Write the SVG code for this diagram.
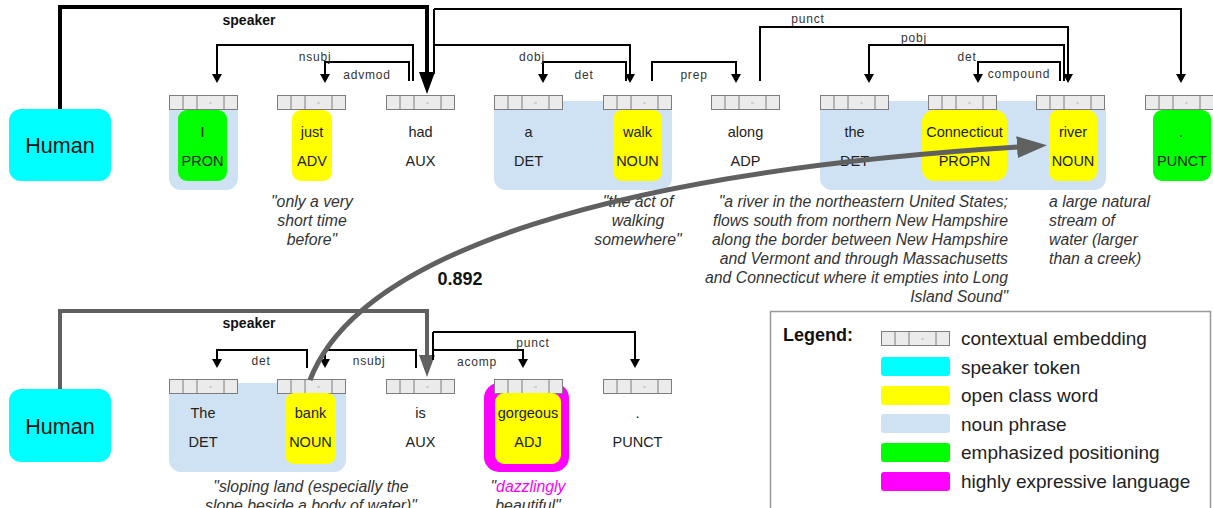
<svg xmlns="http://www.w3.org/2000/svg" width="1213" height="508" viewBox="0 0 1213 508">
<defs>
<style>
text{font-family:"Liberation Sans",Arial,sans-serif}
.w{font-size:14.5px;fill:#222;text-anchor:middle}
.hum{font-size:21.5px;fill:#111;text-anchor:middle}
.lb{font-size:12px;letter-spacing:0.8px;fill:#333;text-anchor:middle}
.sl{font-size:14px;font-weight:bold;fill:#111;text-anchor:middle}
.gl{font-size:15.8px;font-style:italic;fill:#333}
.c{text-anchor:middle}
.r{text-anchor:end}
.dep{fill:none;stroke:#000;stroke-width:2;marker-end:url(#ah)}
.src{fill:none;stroke:#000;stroke-width:2}
.lg{font-size:19px;fill:#222}
.np{fill:#cfe2f3}
.yel{fill:#ffff00}
.grn{fill:#00ff00}
.cyn{fill:#00ffff}
.mag{fill:#ff00ff}
</style>
<marker id="ah" markerUnits="userSpaceOnUse" markerWidth="10" markerHeight="10" refX="6" refY="5" orient="auto"><path d="M0,0 L9,5 L0,10 z" fill="#000"/></marker>
<marker id="bigk" markerUnits="userSpaceOnUse" markerWidth="23" markerHeight="16" refX="2" refY="8" orient="auto"><path d="M0,0 L22,8 L0,16 z" fill="#000"/></marker>
<marker id="bigg" markerUnits="userSpaceOnUse" markerWidth="23" markerHeight="16" refX="2" refY="8" orient="auto"><path d="M0,0 L22,8 L0,16 z" fill="#606060"/></marker>
<marker id="cv" markerUnits="userSpaceOnUse" markerWidth="31" markerHeight="22" refX="2" refY="11" orient="auto"><path d="M0,0 L30,11 L0,22 z" fill="#606060"/></marker>
<g id="emb">
<rect x="0.5" y="0.5" width="68" height="14" fill="#ebebeb" stroke="#7d7d7d"/>
<path d="M14,0.5V14.5M28,0.5V14.5M55,0.5V14.5" stroke="#7d7d7d" fill="none"/>
<path d="M40,8H43" stroke="#aaa" stroke-width="0.8"/>
</g>
</defs>
<rect width="1213" height="508" fill="#fff"/>

<g id="noun-phrases">
<rect class="np" x="169" y="101" width="69" height="89" rx="12"/>
<rect class="np" x="494" y="101" width="178" height="89" rx="12"/>
<rect class="np" x="820" y="101" width="286" height="89" rx="12"/>
<rect class="np" x="169" y="383" width="177" height="89" rx="12"/>
</g>

<g id="human-1">
<rect class="cyn" x="9" y="109" width="102" height="72" rx="12"/>
<text class="hum" x="60" y="153">Human</text>
</g>
<g id="tok-I">
<use href="#emb" x="169" y="95"/>
<rect class="grn" x="178" y="110" width="49" height="71" rx="9"/>
<text class="w" x="202.5" y="137">I</text><text class="w" x="202.5" y="166">PRON</text>
</g>
<g id="tok-just">
<use href="#emb" x="277" y="95"/>
<rect class="yel" x="292" y="110" width="40" height="71" rx="9"/>
<text class="w" x="312" y="137">just</text><text class="w" x="312" y="166">ADV</text>
<text class="gl c" x="312" y="207">"only a very</text>
<text class="gl c" x="312" y="226">short time</text>
<text class="gl c" x="312" y="245">before"</text>
</g>
<g id="tok-had">
<use href="#emb" x="386" y="95"/>
<text class="w" x="420.5" y="137">had</text><text class="w" x="420.5" y="166">AUX</text>
</g>
<g id="tok-a">
<use href="#emb" x="494" y="95"/>
<text class="w" x="528.5" y="137">a</text><text class="w" x="528.5" y="166">DET</text>
</g>
<g id="tok-walk">
<use href="#emb" x="603" y="95"/>
<rect class="yel" x="613" y="110" width="49" height="71" rx="9"/>
<text class="w" x="637.5" y="137">walk</text><text class="w" x="637.5" y="166">NOUN</text>
<text class="gl c" x="638" y="207">"the act of</text>
<text class="gl c" x="638" y="226">walking</text>
<text class="gl c" x="638" y="245">somewhere"</text>
</g>
<g id="tok-along">
<use href="#emb" x="711" y="95"/>
<text class="w" x="745.5" y="137">along</text><text class="w" x="745.5" y="166">ADP</text>
</g>
<g id="tok-the">
<use href="#emb" x="820" y="95"/>
<text class="w" x="854.5" y="137">the</text><text class="w" x="854.5" y="166">DET</text>
</g>
<g id="tok-Connecticut">
<use href="#emb" x="928" y="95"/>
<rect class="yel" x="922" y="110" width="85" height="71" rx="12"/>
<text class="w" x="964.5" y="137">Connecticut</text><text class="w" x="964.5" y="166">PROPN</text>
<text class="gl r" x="1008" y="207">"a river in the northeastern United States;</text>
<text class="gl r" x="1008" y="226">flows south from northern New Hampshire</text>
<text class="gl r" x="1008" y="245">along the border between New Hampshire</text>
<text class="gl r" x="1008" y="264">and Vermont and through Massachusetts</text>
<text class="gl r" x="1008" y="283">and Connecticut where it empties into Long</text>
<text class="gl r" x="1008" y="302">Island Sound"</text>
</g>
<g id="tok-river">
<use href="#emb" x="1036" y="95"/>
<rect class="yel" x="1049" y="110" width="48" height="71" rx="9"/>
<text class="w" x="1073" y="137">river</text><text class="w" x="1073" y="166">NOUN</text>
<text class="gl" x="1049" y="207">a large natural</text>
<text class="gl" x="1049" y="226">stream of</text>
<text class="gl" x="1049" y="245">water (larger</text>
<text class="gl" x="1049" y="264">than a creek)</text>
</g>
<g id="tok-period-1">
<use href="#emb" x="1145" y="95"/>
<rect class="grn" x="1153" y="110" width="58" height="71" rx="9"/>
<text class="w" x="1181" y="137">.</text><text class="w" x="1182" y="166">PUNCT</text>
</g>

<g id="human-2">
<rect class="cyn" x="9" y="389" width="102" height="73" rx="12"/>
<text class="hum" x="60" y="434">Human</text>
</g>
<g id="tok-The">
<use href="#emb" x="169" y="379"/>
<text class="w" x="203" y="418">The</text><text class="w" x="203" y="447">DET</text>
</g>
<g id="tok-bank">
<use href="#emb" x="277" y="379"/>
<rect class="yel" x="285" y="393" width="51" height="71" rx="9"/>
<text class="w" x="310.5" y="418">bank</text><text class="w" x="310.5" y="447">NOUN</text>
<text class="gl c" x="311" y="492">"sloping land (especially the</text>
<text class="gl c" x="311" y="511">slope beside a body of water)"</text>
</g>
<g id="tok-is">
<use href="#emb" x="386" y="379"/>
<text class="w" x="420.5" y="418">is</text><text class="w" x="420.5" y="447">AUX</text>
</g>
<g id="tok-gorgeous">
<rect class="mag" x="484" y="383" width="85" height="89" rx="15"/>
<use href="#emb" x="494" y="379"/>
<rect class="yel" x="495" y="393" width="66" height="71" rx="9"/>
<text class="w" x="528" y="418">gorgeous</text><text class="w" x="528" y="447">ADJ</text>
<text class="gl c" x="528" y="492">"<tspan fill="#ff00ff">dazzlingly</tspan></text>
<text class="gl c" x="528" y="511">beautiful"</text>
</g>
<g id="tok-period-2">
<use href="#emb" x="603" y="379"/>
<text class="w" x="637.5" y="418">.</text><text class="w" x="637.5" y="447">PUNCT</text>
</g>

<g id="connectors">
<path d="M60,109 V7 H427 V74" fill="none" stroke="#000" stroke-width="4" marker-end="url(#bigk)"/>
<path class="src" d="M434,74 V9"/>
<path class="dep" d="M413,81 V45 H217 V80"/>
<path class="dep" d="M409,81 V62 H325 V80"/>
<path class="dep" d="M434,45 H630 V80"/>
<path class="dep" d="M434,9 H1181 V80"/>
<path class="dep" d="M626,81 V62 H543 V80"/>
<path class="dep" d="M652,81 V62 H736 V80"/>
<path class="dep" d="M760,81 V27 H1068 V80"/>
<path class="dep" d="M1064,81 V45 H869 V80"/>
<path class="dep" d="M1060,81 V62 H978 V80"/>

<path d="M60,389 V311 H427 V357" fill="none" stroke="#606060" stroke-width="4" marker-end="url(#bigg)"/>
<path class="src" d="M433,360 V332"/>
<path class="dep" d="M307,368 V350 H217 V365"/>
<path class="dep" d="M416,368 V350 H325 V365"/>
<path class="dep" d="M433,350 H523 V365"/>
<path class="dep" d="M433,332 H635 V365"/>

<path d="M310,380 C360,250 620,172 1019,147" fill="none" stroke="#606060" stroke-width="5" marker-end="url(#cv)"/>

<text class="sl" x="249" y="25">speaker</text>
<text class="lb" x="315" y="61">nsubj</text>
<text class="lb" x="367" y="79">advmod</text>
<text class="lb" x="532" y="61">dobj</text>
<text class="lb" x="584" y="79">det</text>
<text class="lb" x="694" y="79">prep</text>
<text class="lb" x="808" y="23">punct</text>
<text class="lb" x="914" y="42">pobj</text>
<text class="lb" x="967" y="61">det</text>
<text class="lb" x="1019" y="78">compound</text>

<text class="sl" x="249" y="328">speaker</text>
<text class="lb" x="261" y="365">det</text>
<text class="lb" x="369" y="365">nsubj</text>
<text class="lb" x="477" y="366">acomp</text>
<text class="lb" x="533" y="347">punct</text>

<text x="460" y="285" font-size="18px" font-weight="bold" fill="#111" text-anchor="middle">0.892</text>
</g>

<g id="legend">
<rect x="770.5" y="311.5" width="440" height="210" fill="#fff" stroke="#999" stroke-width="1.5"/>
<text x="783" y="341" font-size="18px" font-weight="bold" fill="#111">Legend:</text>
<use href="#emb" x="881" y="331"/>
<text class="lg" x="961" y="345">contextual embedding</text>
<rect class="cyn" x="881" y="357" width="69" height="19" rx="3"/>
<text class="lg" x="961" y="374">speaker token</text>
<rect class="yel" x="881" y="386" width="69" height="19" rx="3"/>
<text class="lg" x="961" y="402">open class word</text>
<rect class="np" x="881" y="414" width="69" height="19" rx="3"/>
<text class="lg" x="961" y="431">noun phrase</text>
<rect class="grn" x="881" y="443" width="69" height="19" rx="3"/>
<text class="lg" x="961" y="459">emphasized positioning</text>
<rect class="mag" x="881" y="472" width="69" height="19" rx="3"/>
<text class="lg" x="961" y="488">highly expressive language</text>
</g>
</svg>
